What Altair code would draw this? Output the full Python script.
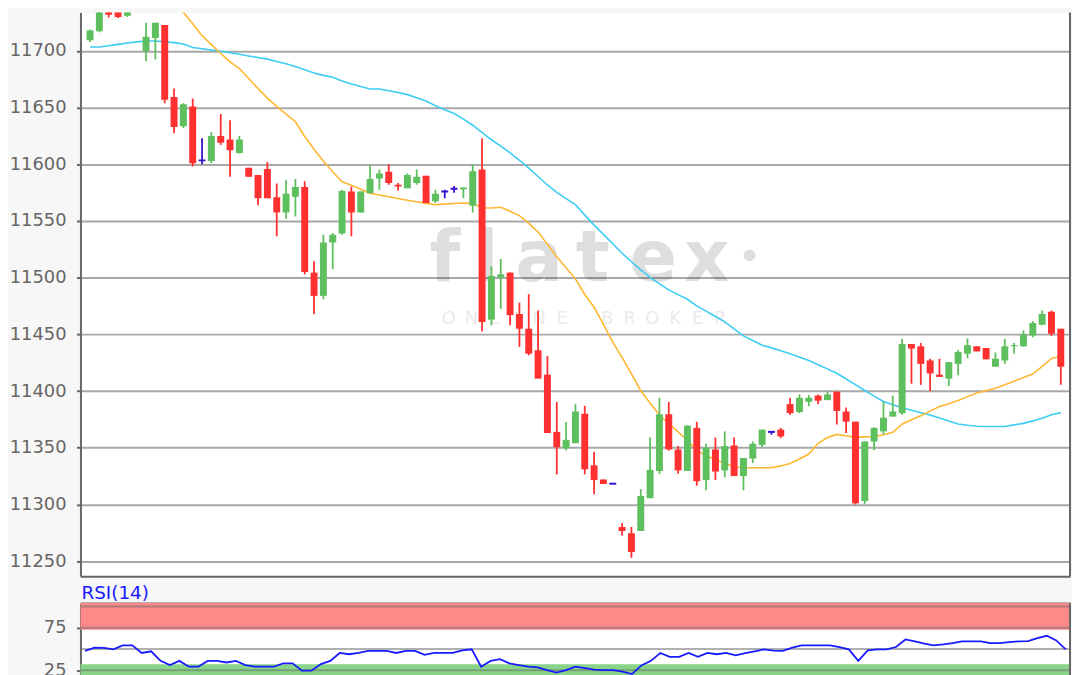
import altair as alt
import pandas as pd

# ---------------- data ----------------
opens = [11709.5, 11717.5, 11735.5, 11736.5, 11731, 11746, 11700, 11711.5, 11723, 11659.5,
         11633.5, 11651, 11603.5, 11603, 11625, 11622, 11610, 11597, 11590.5, 11596,
         11571, 11557.5, 11571.5, 11580, 11504.5, 11484, 11531, 11539, 11576, 11557.5,
         11574.5, 11587.5, 11593.5, 11582, 11579, 11583.5, 11590, 11567.5, 11576, 11578.5,
         11578, 11563.5, 11595.5, 11463, 11500.5, 11504.5, 11468, 11455, 11436, 11414.5,
         11364, 11349.5, 11354, 11380, 11334.5, 11322, 11318.3, 11280, 11274.5, 11276.5,
         11305.5, 11329.5, 11379.5, 11348.5, 11329.5, 11367.5, 11321.5, 11348.5, 11330, 11352,
         11325, 11340.5, 11352.5, 11364, 11366, 11388.5, 11381.5, 11390.5, 11396, 11392,
         11399.5, 11382, 11373, 11303, 11355.5, 11364.5, 11377.5, 11380.5, 11441.5, 11439.5,
         11427, 11414.5, 11411, 11424, 11433, 11439.5, 11438, 11421.5, 11427, 11439.5,
         11439.5, 11449, 11458.5, 11470, 11455]
highs = [11719, 11739.5, 11741, 11737, 11748, 11755, 11725, 11725, 11723, 11667,
         11654, 11658, 11623, 11628.5, 11644.5, 11639, 11625, 11597, 11590.5, 11602,
         11583, 11586, 11587, 11585, 11514.5, 11538, 11539.5, 11577.5, 11580.5, 11576,
         11599.5, 11595.5, 11600, 11583.5, 11592, 11595.5, 11590, 11577.5, 11577.5, 11581,
         11579.5, 11600, 11623, 11510, 11516.5, 11504.5, 11478, 11485.5, 11471, 11431,
         11390.5, 11372.5, 11388.5, 11387, 11346.5, 11322, 11318.3, 11283.5, 11280, 11313.5,
         11359, 11394, 11390.5, 11351.5, 11370, 11373, 11353.5, 11359, 11364.5, 11359,
         11341, 11355.5, 11366, 11364, 11367.5, 11394, 11397, 11396.5, 11397, 11400,
         11399.5, 11385.5, 11373, 11355.5, 11368, 11390.5, 11396, 11446, 11441.5, 11442.5,
         11428.5, 11428.5, 11425.5, 11436, 11446.5, 11439.5, 11438, 11434, 11446, 11442.5,
         11453.5, 11461.5, 11471, 11471, 11455]
lows = [11708, 11716.5, 11729.5, 11729, 11730, 11742, 11691, 11692.5, 11654, 11627.5,
        11632, 11598, 11600, 11601, 11617, 11589, 11609.5, 11589, 11564, 11570,
        11536.5, 11552, 11554, 11503, 11468, 11481, 11507.5, 11538, 11536.5, 11557.5,
        11574.5, 11577.5, 11582, 11577, 11579, 11582, 11566, 11566, 11570, 11575,
        11570, 11557.5, 11452.5, 11458, 11472.5, 11458, 11439, 11431.5, 11411, 11363,
        11326.5, 11347.5, 11354, 11326.5, 11309, 11318, 11318.3, 11272.5, 11253, 11276.5,
        11305.5, 11327, 11347.5, 11327, 11329.5, 11316.5, 11312.5, 11321.5, 11324, 11325,
        11312.5, 11336.5, 11350.5, 11361.5, 11358.5, 11379, 11380.5, 11386.5, 11388.5, 11392,
        11370.5, 11363, 11300, 11300.5, 11348, 11362, 11377.5, 11379, 11406.5, 11405.5,
        11400, 11412.5, 11404.5, 11414, 11429, 11435, 11428, 11421.5, 11424, 11433,
        11439, 11447.5, 11458, 11448.5, 11405.5]
closes = [11718, 11738, 11732, 11730, 11746, 11750, 11712.5, 11725, 11657, 11633,
          11653, 11601, 11603.5, 11625, 11619, 11612.5, 11622, 11589, 11570, 11570,
          11557.5, 11574, 11580, 11505, 11484, 11531, 11538, 11576.5, 11557.5, 11576,
          11587, 11592, 11583.5, 11580.5, 11590.5, 11589, 11566, 11574, 11576, 11578.5,
          11579.5, 11594, 11461, 11501.5, 11503, 11467, 11455, 11433, 11411, 11363,
          11350.5, 11357, 11382, 11331, 11321.5, 11318, 11318.3, 11276.5, 11258, 11307.5,
          11330.5, 11379.5, 11348.5, 11330, 11369.5, 11320.5, 11350, 11329, 11351.5, 11325,
          11341, 11353.5, 11366, 11364, 11360, 11380.5, 11394, 11394, 11391.5, 11397,
          11382.5, 11373, 11301, 11355.5, 11367.5, 11376.5, 11382, 11441.5, 11437.5, 11424,
          11415.5, 11412.5, 11425.5, 11434.5, 11440.5, 11435, 11428, 11428.5, 11439.5, 11440.5,
          11450, 11460, 11468, 11450.5, 11421.5]
ma_short = [11740, 11743, 11745, 11747, 11748, 11748, 11747, 11745, 11742, 11739.2,
            11734.1, 11724.1, 11713.5, 11705.6, 11697.8, 11690.4, 11684.5, 11675.7, 11666.8, 11658.4,
            11651.2, 11644.3, 11637.6, 11624.6, 11613.4, 11602.8, 11593.4, 11584.6, 11581.5, 11578,
            11574.5, 11572.9, 11571.4, 11569.8, 11568.4, 11567, 11565.6, 11564.3, 11564.9, 11565.4,
            11565.9, 11565.6, 11561.7, 11561.5, 11562.2, 11558.7, 11554.8, 11548, 11540.4, 11529.4,
            11518.4, 11508.7, 11499, 11485.2, 11473.9, 11458.8, 11443.2, 11429.7, 11415.2, 11400.3,
            11389.4, 11378.9, 11371.4, 11364, 11356.4, 11348, 11342.9, 11339.6, 11336.4, 11333,
            11332.3, 11332.3, 11332.3, 11332.3, 11334, 11336.2, 11340.1, 11344.5, 11353.9, 11359,
            11361.8, 11360.6, 11359.2, 11359.6, 11360, 11361.5, 11363.6, 11370.8, 11374.7, 11378.3,
            11382.3, 11386.4, 11388.9, 11391.6, 11395.1, 11398.3, 11400.3, 11402.5, 11405.6, 11408.7,
            11411.9, 11415, 11421.8, 11428.8, 11430.7]
ma_long = [11703.5, 11703.5, 11704.6, 11705.8, 11707, 11708, 11708.8, 11708.8, 11708.2, 11707.4,
           11706.2, 11703, 11701.9, 11700.9, 11699.7, 11698.4, 11697.1, 11695.6, 11694.2, 11692.8,
           11690.7, 11688.7, 11686.4, 11683.5, 11680.5, 11678.5, 11676.8, 11673.5, 11670.8, 11668.6,
           11666.5, 11666.5, 11664.9, 11663.3, 11661.5, 11658.7, 11655.8, 11651.7, 11648.1, 11644.8,
           11639.9, 11634.5, 11627.9, 11621.7, 11616.1, 11610.2, 11603.6, 11596.6, 11589.3, 11581.8,
           11575.2, 11569.8, 11564.5, 11555.2, 11546.4, 11538.2, 11529.9, 11521.6, 11514.1, 11507,
           11500.2, 11494.6, 11489.3, 11485.1, 11481, 11475.2, 11470.5, 11465.8, 11461.1, 11454.8,
           11448.7, 11444.6, 11440.4, 11438.1, 11435.6, 11433, 11430, 11427, 11423.3, 11419.6,
           11415.7, 11410.7, 11405.7, 11400.5, 11395.6, 11390.8, 11388, 11385.2, 11383, 11380.9,
           11378.9, 11376.2, 11373.6, 11371, 11369.9, 11369, 11368.8, 11368.8, 11368.8, 11370.2,
           11371.5, 11373.7, 11376.1, 11379.2, 11381]
rsi_values = [47.7, 51.6, 51.2, 49.6, 54.3, 54.3, 45.3, 47.3, 36.0, 31.0,
              36.0, 29.1, 29.1, 36.0, 36.0, 34.1, 36.0, 31.0, 29.1, 29.1,
              29.1, 33.0, 33.0, 24.4, 24.4, 32.2, 36.0, 45.3, 43.8, 45.3,
              47.7, 47.7, 47.7, 45.3, 47.7, 47.7, 43.0, 45.3, 45.3, 45.3,
              48.4, 49.6, 29.1, 36.0, 38.0, 33.0, 31.0, 29.1, 28.3, 25.2,
              22.1, 25.2, 29.1, 27.5, 25.6, 25.2, 25.2, 23.3, 20.5, 30.6,
              36.0, 45.3, 40.7, 40.7, 45.3, 40.7, 45.3, 43.8, 45.3, 42.6,
              45.0, 47.3, 49.6, 48.1, 47.7, 51.6, 54.3, 54.3, 54.3, 54.3,
              52.3, 49.6, 36.0, 48.4, 49.6, 49.6, 52.3, 61.2, 58.9, 56.2,
              54.3, 55.4, 57.0, 58.9, 58.9, 58.9, 57.0, 57.0, 58.1, 58.9,
              59.3, 62.8, 65.5, 60.1, 49.6]
price_ticks = [11250, 11300, 11350, 11400, 11450, 11500, 11550, 11600, 11650, 11700]
rsi_ticks = [25, 75]
rsi_levels = [25, 50, 75, 100]
rsi_zones = ["overbought", "oversold"]
rsi_zone_lo = [72.5, 0]
rsi_zone_hi = [104, 32]
watermark_letters = ["f", "l", "a", "t", "e", "x"]
subtitle_letters = list("ONLINE BROKER")

# ---------------- styling ----------------
GREEN = "#5dbf5d"
RED = "#ff3030"
BLUE = "#3a10d0"
ORANGE = "#ffb732"
CYAN = "#3ccdf3"
FRAME = "#666666"
GRID = "#a8a8a8"
FONT = "DejaVu Sans"

W, H_MAIN, H_RSI = 997, 568, 89

n = len(opens)
df = pd.DataFrame({
    "i": list(range(n)), "open": opens, "high": highs, "low": lows, "close": closes,
    "ma_s": ma_short, "ma_l": ma_long, "rsi": rsi_values,
})
df["dir"] = ["up" if c > o else ("down" if c < o else "doji") for o, c in zip(opens, closes)]

xs = alt.Scale(domain=[-0.495, n - 0.545], nice=False, zero=False)
ys = alt.Scale(domain=[11236.6, 11733.9], nice=False, zero=False)
col = alt.Color("dir:N", scale=alt.Scale(domain=["up", "down", "doji"], range=[GREEN, RED, BLUE]), legend=None)

y_axis = alt.Axis(values=price_ticks, format="d", title=None, labelFont=FONT, labelFontSize=18,
                  labelColor="#666666", labelPadding=10.5, tickSize=4, tickWidth=2, tickColor=FRAME,
                  domain=True, domainColor=FRAME, domainWidth=2, grid=True, gridColor=GRID, gridWidth=2)
x_axis_main = alt.Axis(title=None, labels=False, ticks=False, grid=False, domain=True,
                       domainColor=FRAME, domainWidth=2)

base = alt.Chart(df)

# watermark (decoration)
wm_layers = []
wm_x = [448, 490, 543, 597, 658, 712]
for ch, px in zip(watermark_letters, wm_x):
    wm_layers.append(
        alt.Chart(pd.DataFrame({"t": [ch]})).mark_text(
            font=FONT, fontSize=71, fontWeight="bold", color="black", opacity=0.125,
            align="center", baseline="alphabetic"
        ).encode(text="t:N", x=alt.value(px - 81), y=alt.value(270))
    )
wm_layers.append(
    alt.Chart(pd.DataFrame({"t": ["•"]})).mark_text(
        font=FONT, fontSize=40, color="black", opacity=0.125, align="center", baseline="middle"
    ).encode(text="t:N", x=alt.value(755 - 81), y=alt.value(247))
)
for k, ch in enumerate(subtitle_letters):
    if ch == " ":
        continue
    wm_layers.append(
        alt.Chart(pd.DataFrame({"t": [ch]})).mark_text(
            font=FONT, fontSize=18, color="black", opacity=0.08, align="center", baseline="middle"
        ).encode(text="t:N", x=alt.value(452 + 22.8 * k - 81), y=alt.value(309))
    )

ma_l_line = base.mark_line(color=CYAN, strokeWidth=1.6, clip=True).encode(
    x=alt.X("i:Q", scale=xs, axis=x_axis_main), y=alt.Y("ma_l:Q", scale=ys, axis=y_axis))
ma_s_line = base.mark_line(color=ORANGE, strokeWidth=1.6, clip=True).encode(
    x=alt.X("i:Q", scale=xs, axis=x_axis_main), y=alt.Y("ma_s:Q", scale=ys, axis=y_axis))
wick = base.mark_rule(strokeWidth=1.8, clip=True).encode(
    x=alt.X("i:Q", scale=xs, axis=x_axis_main), y=alt.Y("low:Q", scale=ys, axis=y_axis),
    y2="high:Q", color=col)
body = base.transform_filter("datum.dir != 'doji'").mark_bar(size=7, clip=True).encode(
    x=alt.X("i:Q", scale=xs, axis=x_axis_main), y=alt.Y("open:Q", scale=ys, axis=y_axis),
    y2="close:Q", color=col)
doji = base.transform_filter("datum.dir == 'doji'").transform_calculate(
    xl="datum.i - 0.37", xr="datum.i + 0.37"
).mark_rule(strokeWidth=2, clip=True).encode(
    x=alt.X("xl:Q", scale=xs, axis=x_axis_main), x2="xr:Q",
    y=alt.Y("close:Q", scale=ys, axis=y_axis), color=col)
right_main = alt.Chart(pd.DataFrame({"a": [0]})).mark_rule(color=FRAME, strokeWidth=2).encode(
    x=alt.value(W), y=alt.value(0), y2=alt.value(H_MAIN))

main = alt.layer(*wm_layers, ma_l_line, ma_s_line, wick, body, doji, right_main).properties(
    width=W, height=H_MAIN, view=alt.ViewBackground(fill="white", stroke="transparent"))

# ---------------- RSI panel ----------------
ys_rsi = alt.Scale(domain=[0, 104], nice=False, zero=False)
rsi_axis = alt.Axis(values=rsi_ticks, format="d", title=None, labelFont=FONT, labelFontSize=18,
                    labelColor="#666666", labelPadding=10.5, tickSize=4, tickWidth=2, tickColor=FRAME,
                    domain=True, domainColor=FRAME, domainWidth=2, grid=False)
x_axis_top = alt.Axis(orient="top", title=None, labels=False, ticks=False, grid=False, domain=True,
                      domainColor=FRAME, domainWidth=2)

zones = alt.Chart(pd.DataFrame({"zone": rsi_zones, "lo": rsi_zone_lo, "hi": rsi_zone_hi})).mark_rect().encode(
    x=alt.value(0), x2=alt.value(W),
    y=alt.Y("lo:Q", scale=ys_rsi, axis=rsi_axis), y2="hi:Q",
    color=alt.Color("zone:N", scale=alt.Scale(domain=rsi_zones, range=["#ff8888", "#88d488"]), legend=None))
levels = alt.Chart(pd.DataFrame({"lvl": rsi_levels})).mark_rule(color="#707070", opacity=0.55, strokeWidth=2).encode(
    y=alt.Y("lvl:Q", scale=ys_rsi, axis=rsi_axis))
rsi_line = base.mark_line(color="#1a1aff", strokeWidth=1.8, clip=True).encode(
    x=alt.X("i:Q", scale=xs, axis=x_axis_top), y=alt.Y("rsi:Q", scale=ys_rsi, axis=rsi_axis))
right_rsi = alt.Chart(pd.DataFrame({"a": [0]})).mark_rule(color=FRAME, strokeWidth=2).encode(
    x=alt.value(W), y=alt.value(0), y2=alt.value(H_RSI))
rsi_label = alt.Chart(pd.DataFrame({"t": ["RSI(14)"]})).mark_text(
    font=FONT, fontSize=18.5, color="#1a1aff", align="left", baseline="alphabetic"
).encode(text="t:N", x=alt.value(1), y=alt.value(-4))

rsi_chart = alt.layer(zones, levels, rsi_line, right_rsi, rsi_label).properties(
    width=W, height=H_RSI, view=alt.ViewBackground(fill="white", stroke="transparent"))

chart = alt.vconcat(main, rsi_chart, spacing=27, bounds="flush").resolve_scale(
    color="independent").properties(padding=0, background="#f7f7f7")

chart.save("out.html", embed_options={"renderer": "svg", "actions": False})
